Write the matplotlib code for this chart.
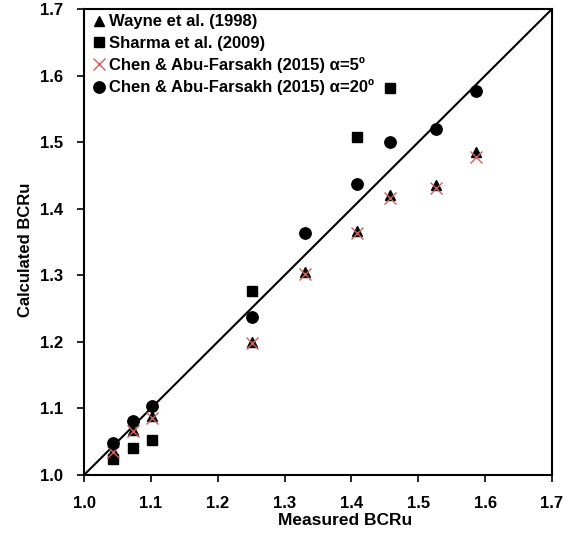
import numpy as np
from matplotlib import pyplot as plt

plt.rcParams['font.family'] = ['Liberation Sans', 'DejaVu Sans']
plt.rcParams['font.weight'] = 'bold'

# measured vs calculated BCRu
measured = [1.044, 1.073, 1.101, 1.251, 1.330, 1.408, 1.458, 1.527, 1.586]
wayne = [1.036, 1.068, 1.088, 1.200, 1.305, 1.367, 1.420, 1.435, 1.485]
chen_5 = [1.035, 1.066, 1.086, 1.198, 1.302, 1.363, 1.416, 1.431, 1.478]
chen_20 = [1.048, 1.081, 1.104, 1.238, 1.364, 1.437, 1.500, 1.519, 1.577]

measured_sharma = [1.044, 1.073, 1.101, 1.251, 1.408, 1.458]
sharma = [1.024, 1.041, 1.053, 1.277, 1.508, 1.581]

fig = plt.figure(figsize=(5.71, 5.33), dpi=100)
ax = fig.add_axes([84 / 571, 1 - 475 / 533, 468 / 571, 466 / 533])

ax.plot([1.0, 1.7], [1.0, 1.7], color='black', lw=1.5, zorder=1)
ax.plot(measured, wayne, ls='', marker='^', ms=7, color='black', label='Wayne et al. (1998)')
ax.plot(measured_sharma, sharma, ls='', marker='s', ms=6.8, color='black', label='Sharma et al. (2009)')
ax.plot(measured, chen_5, ls='', marker='x', ms=8.5, mew=1.0, color='#d0605e',
        label='Chen & Abu-Farsakh (2015) α=5º')
ax.plot(measured, chen_20, ls='', marker='o', ms=8.2, color='black',
        label='Chen & Abu-Farsakh (2015) α=20º')

ax.set_xlim(1.0, 1.7)
ax.set_ylim(1.0, 1.7)
ticks = np.arange(1.0, 1.71, 0.1)
ax.set_xticks(ticks)
ax.set_yticks(ticks)
ax.set_xticklabels(['%.1f' % t for t in ticks], fontsize=12, fontweight='bold')
ax.set_yticklabels(['%.1f' % t for t in ticks], fontsize=12, fontweight='bold')
ax.tick_params(direction='out', length=5, width=1.2, top=False, right=False, pad=10)
for s in ax.spines.values():
    s.set_linewidth(1.5)

ax.set_xlabel('Measured BCRu', fontsize=12.5, fontweight='bold')
ax.set_ylabel('Calculated BCRu', fontsize=12, fontweight='bold')
ax.xaxis.set_label_coords(0.558, -0.082)
ax.yaxis.set_label_coords(-0.109, 0.483)

ax.legend(loc='upper left', bbox_to_anchor=(0.0, 1.01), frameon=False,
          handlelength=0.6, handletextpad=0.3, labelspacing=0.38, borderaxespad=0.2,
          prop={'weight': 'bold', 'size': 12})

fig.savefig('out.png', dpi=100)
